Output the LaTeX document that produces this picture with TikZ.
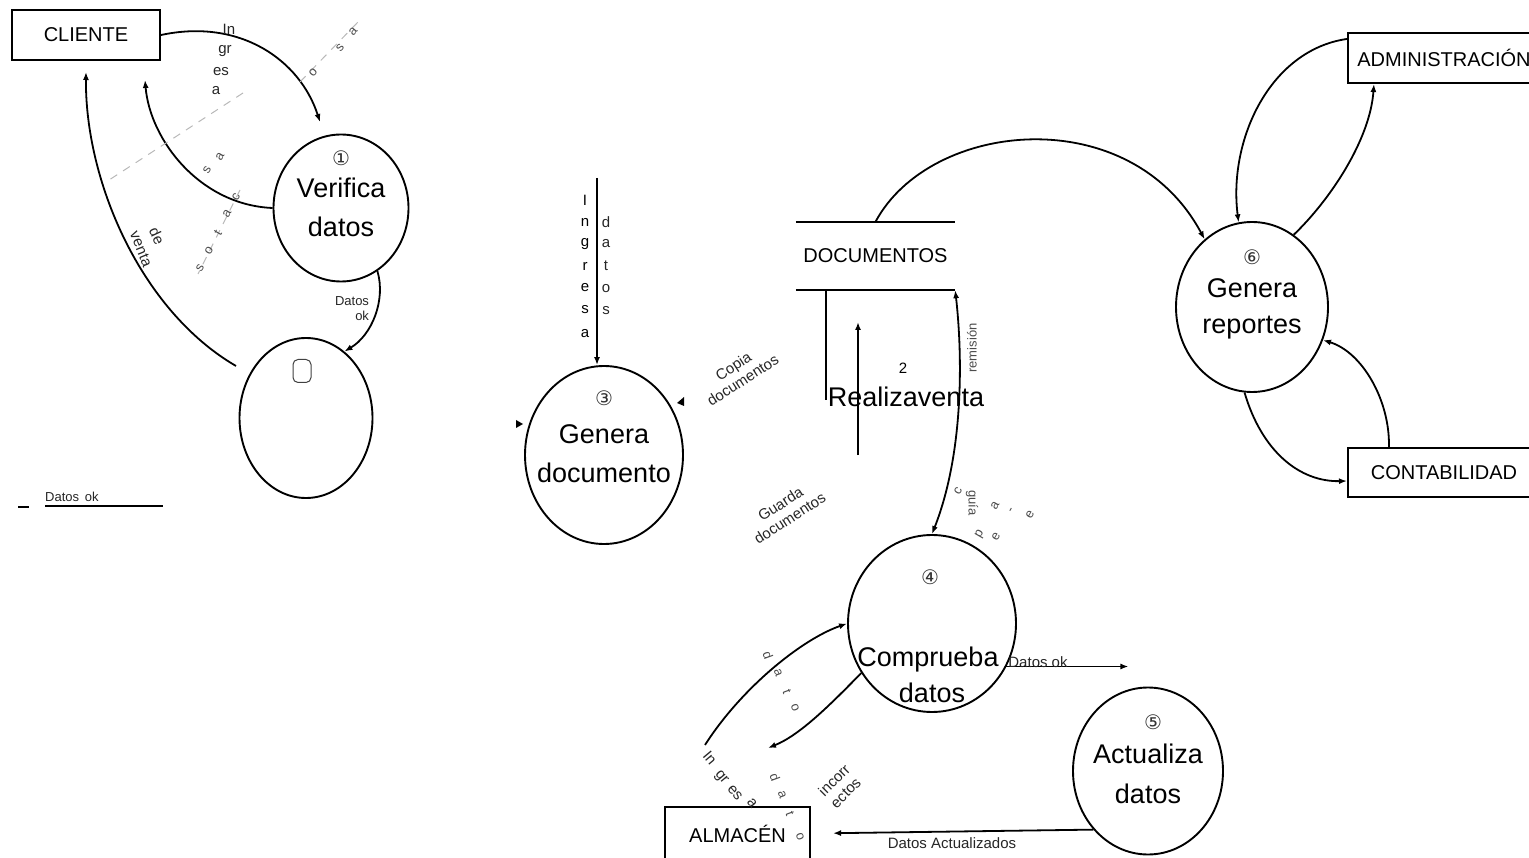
\documentclass[tikz,border=0pt]{standalone}
\usepackage{fontspec}
\setmainfont{Liberation Sans}
\newfontfamily\symfont{DejaVu Sans}
\usetikzlibrary{shapes.geometric,arrows.meta}

\begin{document}
\begin{tikzpicture}[x=1pt,y=-1pt,
  proc/.style={draw, line width=1.9pt, ellipse, inner sep=0pt},
  ent/.style={draw, line width=2.1pt, rectangle, inner sep=0pt,
    font=\fontsize{20}{24}\selectfont},
  flow/.style={line width=1.8pt, -{Latex[length=8pt,width=6pt]}},
  biflow/.style={line width=1.8pt, {Latex[length=8pt,width=6pt]}-{Latex[length=8pt,width=6pt]}},
  plain/.style={line width=1.8pt},
  big/.style={font=\fontsize{27}{30}\selectfont, inner sep=0pt, anchor=base},
  num/.style={font=\symfont\fontsize{20}{22}\selectfont, inner sep=0pt, text=black!80},
  lbl/.style={font=\fontsize{15}{17}\selectfont, inner sep=0pt, text=black!85},
  frag/.style={font=\fontsize{13}{15}\selectfont, inner sep=0pt, text=black!70},
  faint/.style={dash pattern=on 8pt off 7pt, black!28, line width=1pt}]

\useasboundingbox (0,0) rectangle (1529,858);

% ---------- external entities ----------
\node[ent, minimum width=148pt, minimum height=50pt] (cli) at (86,35) {CLIENTE};
\node[ent, minimum width=192pt, minimum height=50pt] (adm) at (1444,58) {ADMINISTRACIÓN};
\node[ent, minimum width=192pt, minimum height=49pt] (cont) at (1444,472.5) {CONTABILIDAD};
\node[ent, minimum width=145pt, minimum height=53pt] (alm) at (737.5,833.5) {ALMACÉN};

% ---------- processes ----------
\node[proc, minimum width=135pt, minimum height=147pt] (c1) at (341,208) {};
\node[proc, minimum width=133pt, minimum height=160pt] (c0) at (306,418) {};
\node[proc, minimum width=158pt, minimum height=178pt] (c3) at (604,455) {};
\node[proc, minimum width=168pt, minimum height=177pt] (c4) at (932,623.5) {};
\node[proc, minimum width=150pt, minimum height=167pt] (c5) at (1148,771) {};
\node[proc, minimum width=152pt, minimum height=170pt] (c6) at (1252,307) {};

\node[num] (n1) at (341,158) {①};
\node[big] (t1a) at (341,197.5) {Verifica};
\node[big] (t1b) at (341,236.5) {datos};

\node[draw, line width=1pt, rounded corners=5pt, minimum width=18pt,
  minimum height=23pt, inner sep=0pt, black!75] (n0) at (302,371) {};

\node[num] (n3) at (604,398) {③};
\node[big] (t3a) at (604,443) {Genera};
\node[big] (t3b) at (604,482) {documento};

\node[num] (n4) at (930,577) {④};
\node[big] (t4a) at (928,666) {Comprueba};
\node[big] (t4b) at (932,702) {datos};

\node[num] (n5) at (1153,722) {⑤};
\node[big] (t5a) at (1148,763) {Actualiza};
\node[big] (t5b) at (1148,803) {datos};

\node[num] (n6) at (1252,257) {⑥};
\node[big] (t6a) at (1252,298) {Genera};
\node[big] (t6b) at (1252,334) {reportes};

% ---------- data store ----------
\node[minimum width=159pt, minimum height=68pt, inner sep=0pt,
  font=\fontsize{20}{24}\selectfont] (docs) at (875.5,256) {\raisebox{-3pt}{DOCUMENTOS}};
\draw[line width=1.9pt] (docs.north west) -- (docs.north east);
\draw[line width=2.6pt] (docs.south west) -- (docs.south east);
\draw[plain] ([xshift=30pt]docs.south west) -- ++(0,110);

\node[lbl, text=black] (n2) at (903,368) {2};
\node[big] (t2) at (906,407) {Realizaventa};
\coordinate (rvLow) at (858,455);
\coordinate (rvTop) at (858,322);
\draw[flow] (rvLow) -- (rvTop);

% ---------- connectors, left part ----------
\coordinate (c1in) at (320,122);
\coordinate (cliA) at (145,80);
\coordinate (cliB) at (86,72);
\coordinate (c0out) at (236,366);
\draw[flow] (cli.east) .. controls (240,18) and (300,60) .. (c1in);
\draw[flow] (c1.west) .. controls (200,205) and (150,140) .. (cliA);
\draw[flow] (c0out) .. controls (140,310) and (85,180) .. (cliB);
\draw[flow] (c1.-60) .. controls (386,300) and (372,335) .. (c0.60);

\draw[faint] (300,82) -- (358,22);
\draw[faint] (243,93) -- (106,182);
\draw[faint] (240,190) -- (198,274);

\node[lbl] (l1a) at (229,29) {In};
\node[lbl] (l1b) at (225,51) {gr};
\node[lbl] (l1c) at (221,72) {es};
\node[lbl] (l1d) at (216,91) {a};
\node[frag, rotate=50] (f1) at (313,73) {o};
\node[frag, rotate=50] (f2) at (340,48) {s};
\node[frag, rotate=50] (f3) at (353,32) {a};
\node[frag, rotate=60] (f4) at (220,157) {a};
\node[frag, rotate=60] (f5) at (207,170) {s};
\node[frag, rotate=60] (f6) at (236,197) {c};
\node[frag, rotate=60] (f7) at (227,214) {a};
\node[frag, rotate=60] (f8) at (218,233) {t};
\node[frag, rotate=60] (f9) at (209,251) {o};
\node[frag, rotate=60] (f10) at (200,268) {s};
\node[lbl, rotate=-65] (l2a) at (157,236) {de};
\node[lbl, rotate=-68] (l2b) at (141,249) {venta};
\node[frag, text=black!85, align=right] (l3) at (352,309) {Datos\\ok};

\node[frag, text=black!85, anchor=base west] (l4) at (45,501) {Datos\ \,ok};
\draw[line width=1.8pt] (45,506) -- (163,506);
\draw[line width=1.8pt] (18,507) -- (29,507);

% ---------- Genera documento ----------
\coordinate (ingTop) at (597,178);
\draw[flow] (ingTop) -- (ingTop |- c3.north);
\foreach \ch/\yy [count=\i] in {I/200,n/222,g/244,r/266,e/288,s/310,a/334}
  \node[lbl, text=black] (ing\i) at (585,\yy) {\ch};
\foreach \ch/\yy [count=\i] in {d/222,a/244,t/266,o/289,s/311}
  \node[lbl] (dat\i) at (606,\yy) {\ch};
\fill (677,403) -- (684,397) -- (684,406) -- cycle;
\fill (523,424) -- (516,420) -- (516,428) -- cycle;
\node[lbl, rotate=33, align=center] (l5) at (738,373) {Copia\\documentos};
\node[lbl, rotate=33, align=center] (l6) at (785,511) {Guarda\\documentos};

% ---------- Realiza venta / remision ----------
\draw[biflow] (docs.south east) .. controls (962,350) and (965,450) .. (c4.north);
\node[frag, rotate=90] (l7) at (972,348) {remisión};
\node[frag, rotate=-90] (l8) at (972,503) {guía};
\node[frag, rotate=60] (g1) at (958,491) {c};
\node[frag, rotate=60] (g2) at (995,506) {a};
\node[frag, rotate=60] (g3) at (1012,511) {-};
\node[frag, rotate=60] (g4) at (1030,515) {e};
\node[frag, rotate=60] (g5) at (980,534) {p};
\node[frag, rotate=60] (g6) at (996,537) {e};

% ---------- Comprueba datos ----------
\coordinate (almIn) at (705,745);
\coordinate (almOut) at (768,748);
\draw[flow] (almIn) .. controls (740,690) and (800,640) .. (c4.west);
\draw[flow] (c4.-145) .. controls (830,705) and (800,735) .. (almOut);
\node[lbl, rotate=-50] (l9a) at (710,758) {In};
\node[lbl, rotate=-50] (l9b) at (721,778) {gr};
\node[lbl, rotate=-50] (l9c) at (735,793) {es};
\node[lbl, rotate=-50] (l9d) at (752,803) {a};
\foreach \ch/\xx/\yy [count=\i] in {d/768/655,a/778/673,t/787/692,o/795/708}
  \node[frag, rotate=-70] (da\i) at (\xx,\yy) {\ch};
\foreach \ch/\xx/\yy [count=\i] in {d/775/777,a/782/795,t/790/814,o/800/837}
  \node[frag, rotate=-70] (db\i) at (\xx,\yy) {\ch};
\node[lbl, rotate=45, align=left] (l10) at (840,786) {incorr\\ectos};

\draw[flow] (c4.-30) -- ++(122,0);
\node[lbl] (l11) at (1038,662) {Datos ok};
\draw[flow, shorten >=22pt] (c5.-133) -- (alm.east);
\node[lbl] (l12) at (952,843) {Datos Actualizados};

% ---------- Genera reportes ----------
\draw[flow] (docs.north) .. controls (930,120) and (1130,100) .. (c6.125);
\draw[flow] ([yshift=-7pt]adm.north west) .. controls (1270,50) and (1228,140) .. (c6.99);
\draw[flow] (c6.60) .. controls (1330,200) and (1370,140) .. ([xshift=27pt]adm.south west);
\draw[flow] ([xshift=42pt]cont.north west) .. controls (1390,400) and (1362,352) .. (c6.-25);
\draw[flow] (c6.-95) .. controls (1262,452) and (1300,482) .. ([yshift=-8.5pt]cont.west);

\end{tikzpicture}
\end{document}
